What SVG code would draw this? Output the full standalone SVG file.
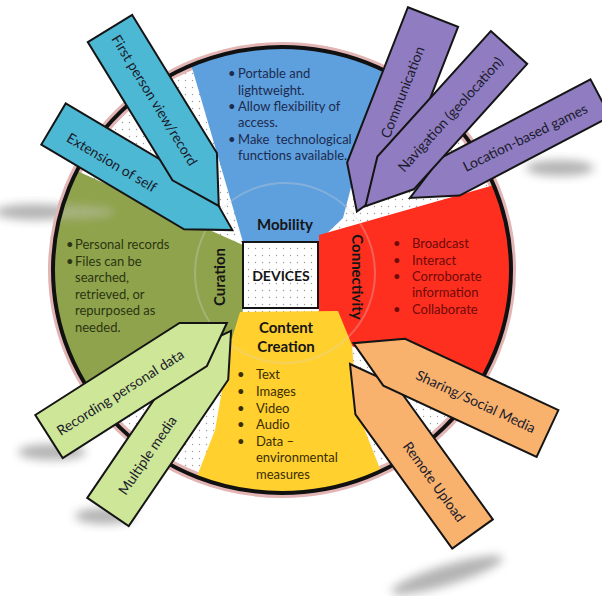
<svg xmlns="http://www.w3.org/2000/svg" width="602" height="596" viewBox="0 0 602 596">
<defs>
<style>
.arr{stroke:#151515;stroke-width:2;stroke-linejoin:miter}
.cy{fill:#4DB8D4}.pu{fill:#8F7CC1}.lg{fill:#CDE697}.or{fill:#F8B26E}
.at{font-family:Lato,"Open Sans","Liberation Sans",sans-serif;font-size:14px;fill:#1b1b2b;text-anchor:middle;dominant-baseline:central}
.st{font-family:Lato,"Open Sans","Liberation Sans",sans-serif;font-size:13px}
.tt{font-family:Lato,"Open Sans","Liberation Sans",sans-serif;font-weight:bold;font-size:15px;fill:#151515;text-anchor:middle}
.sh{fill:#777;opacity:0.55;filter:url(#blur)}
</style>
<pattern id="dots" width="7" height="7" patternUnits="userSpaceOnUse">
<rect width="7" height="7" fill="#fff"/>
<circle cx="3.5" cy="3.5" r="0.7" fill="#9a9a9a"/>
</pattern>
<clipPath id="circ"><ellipse cx="282" cy="270" rx="229" ry="223"/></clipPath>
<filter id="blur" x="-50%" y="-50%" width="200%" height="200%"><feGaussianBlur stdDeviation="5"/></filter>
</defs>
<rect width="602" height="596" fill="#fff"/>

<g id="shadows">
<ellipse class="sh" cx="447" cy="575" rx="58" ry="10" transform="rotate(-17 447 575)"/>
<ellipse class="sh" cx="560" cy="168" rx="34" ry="8"/>
<ellipse class="sh" cx="105" cy="516" rx="30" ry="8"/>
<ellipse class="sh" cx="52" cy="452" rx="34" ry="8"/>
<ellipse class="sh" cx="35" cy="212" rx="40" ry="8"/>
</g>

<g id="wheel">
<ellipse cx="282" cy="270" rx="229" ry="223" fill="url(#dots)" stroke="#e2b4b4" stroke-width="10"/>
<g clip-path="url(#circ)">
<polygon id="sector-mobility" points="243,242 318,242 343,218 395,20 178,20" fill="#5E9FDD"/>
<polygon id="sector-connectivity" points="319,235 600,155 600,460 350,345 319,318" fill="#FF2F1F"/>
<polygon id="sector-curation" points="243,245 30,150 0,160 0,440 240,335 243,308" fill="#8FA34C"/>
<polygon id="sector-content" points="240,312 338,311 352,345 357,410 400,520 180,520 215,430 230,345" fill="#FFD02E"/>
<ellipse cx="70" cy="212" rx="45" ry="7" fill="#ccc" opacity="0.4" filter="url(#blur)"/>
</g>
<circle cx="285" cy="273" r="90" fill="none" stroke="#d8d8d8" stroke-width="2" opacity="0.3"/>
<ellipse cx="282" cy="270" rx="229" ry="223" fill="none" stroke="#111" stroke-width="4"/>
</g>

<g id="devices">
<rect x="243" y="242" width="75" height="66" fill="url(#dots)" stroke="#151515" stroke-width="2"/>
<text class="tt" x="281" y="281" style="font-size:14px">DEVICES</text>
</g>

<g id="mobility">
<text class="tt" x="285" y="230">Mobility</text>
<g class="st" fill="#1d2b4f">
<text x="228" y="78">•</text><text x="238" y="78">Portable and</text>
<text x="238" y="94.5">lightweight.</text>
<text x="228" y="110.5">•</text><text x="238" y="110.5">Allow flexibility of</text>
<text x="238" y="127">access.</text>
<text x="228" y="143.5">•</text><text x="238" y="143.5" xml:space="preserve">Make  technological</text>
<text x="238" y="160">functions available.</text>
</g>
</g>

<g id="connectivity">
<text class="tt" transform="translate(352,277) rotate(90)">Connectivity</text>
<g class="st" fill="#6e0a0a">
<text x="393" y="248">•</text><text x="412" y="248">Broadcast</text>
<text x="393" y="265">•</text><text x="412" y="265">Interact</text>
<text x="393" y="281">•</text><text x="412" y="281">Corroborate</text>
<text x="412" y="297">information</text>
<text x="393" y="314">•</text><text x="412" y="314">Collaborate</text>
</g>
</g>

<g id="curation">
<text class="tt" transform="translate(225,277) rotate(-90)">Curation</text>
<g class="st" fill="#2b3511">
<text x="66" y="249">•</text><text x="75" y="249">Personal records</text>
<text x="66" y="265.5">•</text><text x="75" y="265.5">Files can be</text>
<text x="75" y="282">searched,</text>
<text x="75" y="298.5">retrieved, or</text>
<text x="75" y="315">repurposed as</text>
<text x="75" y="331.5">needed.</text>
</g>
</g>

<g id="content-creation">
<text class="tt" x="286" y="333">Content</text>
<text class="tt" x="286" y="352">Creation</text>
<g class="st" fill="#3a2d00">
<text x="237" y="379">•</text><text x="256" y="379">Text</text>
<text x="237" y="396">•</text><text x="256" y="396">Images</text>
<text x="237" y="413">•</text><text x="256" y="413">Video</text>
<text x="237" y="429">•</text><text x="256" y="429">Audio</text>
<text x="237" y="445.5">•</text><text x="256" y="445.5">Data –</text>
<text x="256" y="462">environmental</text>
<text x="256" y="478.5">measures</text>
</g>
</g>

<g id="connectors">
<g id="arrow-extension">
<polygon class="arr cy" points="65.7,103.4 208.5,188.1 232.4,230.1 184.1,229.3 41.3,144.6"/>
<text class="at" transform="translate(112,162) rotate(30.7)">Extension of self</text>
</g>
<g id="arrow-first-person">
<polygon class="arr cy" points="132.2,14.9 216.9,153.1 218.8,205.9 172.5,180.3 87.8,42.1"/>
<text class="at" transform="translate(155,100) rotate(58.5)">First person view/record</text>
</g>
<g id="arrow-location">
<polygon class="arr pu" points="590.5,79.4 610.1,116.6 459.6,195.6 410,198 440,158.4"/>
<text class="at" transform="translate(525,137) rotate(-26)">Location-based games</text>
</g>
<g id="arrow-communication">
<polygon class="arr pu" points="407.9,7.2 458.1,26.8 397.3,182.3 356.9,211.6 347.1,162.7"/>
<text class="at" transform="translate(402,92) rotate(-68.6)">Communication</text>
</g>
<g id="arrow-navigation">
<polygon class="arr pu" points="490.8,31.1 527.2,63.9 413.8,189.3 365.4,206.3 377.4,156.5"/>
<text class="at" transform="translate(450,114) rotate(-47.9)">Navigation (geolocation)</text>
</g>
<g id="arrow-remote">
<polygon class="arr or" points="492.8,519.4 396,385.2 350,364 355.4,414.4 452.2,548.6"/>
<text class="at" transform="translate(434.5,481.5) rotate(54.2)">Remote Upload</text>
</g>
<g id="arrow-sharing">
<polygon class="arr or" points="558.4,410.1 405.1,338.8 353.4,343.2 383.3,385.6 536.6,456.9"/>
<text class="at" transform="translate(476,401) rotate(24.9)">Sharing/Social Media</text>
</g>
<g id="arrow-multiple">
<polygon class="arr lg" points="87.3,497.9 186.8,351.5 231.1,330.9 228.2,379.7 128.7,526.1"/>
<text class="at" transform="translate(147,455) rotate(-55.8)">Multiple media</text>
</g>
<g id="arrow-recording">
<polygon class="arr lg" points="35.3,415 179.5,323 226.9,323 206.9,366 62.7,458"/>
<text class="at" transform="translate(120,392) rotate(-32.5)">Recording personal data</text>
</g>
</g>
</svg>
